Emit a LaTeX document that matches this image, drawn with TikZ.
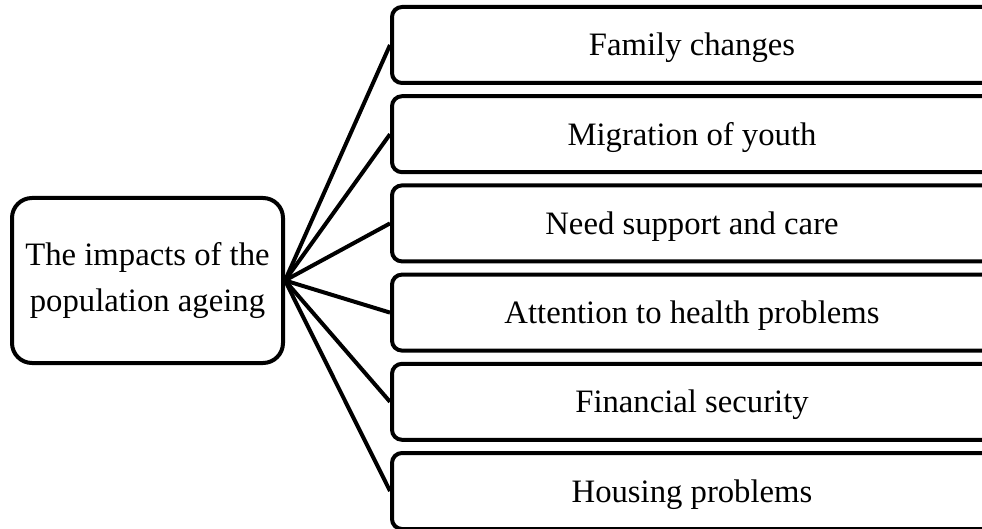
\documentclass[tikz,border=0pt]{standalone}
\usepackage{fontspec}
\setmainfont{Liberation Serif}
\begin{document}
\begin{tikzpicture}[x=1pt,y=-1pt, line width=4pt,
  leaf/.style={draw, rounded corners=10pt, minimum width=600pt, minimum height=76pt,
    font=\fontsize{32.7}{40}\selectfont, text height=22pt, text depth=0pt,
    anchor=west, inner sep=0pt},
  hub/.style={draw, rounded corners=20pt, minimum width=271pt, minimum height=165pt,
    align=center, font=\fontsize{32.7}{46}\selectfont, inner sep=0pt},
  link/.style={draw, line width=4pt}]
\useasboundingbox (0,0) rectangle (982,529);
\node[hub] (c) at (147.5,280.5) {The impacts of the\\population ageing};
\node[leaf] (l1) at (390,45) {Family changes};
\node[leaf] (l2) at (390,134.2) {Migration of youth};
\node[leaf] (l3) at (390,223.4) {Need support and care};
\node[leaf] (l4) at (390,312.6) {Attention to health problems};
\node[leaf] (l5) at (390,401.8) {Financial security};
\node[leaf] (l6) at (390,491) {Housing problems};
\foreach \i in {1,...,6} \path[link] (c.east) -- (l\i.west);
\end{tikzpicture}
\end{document}
